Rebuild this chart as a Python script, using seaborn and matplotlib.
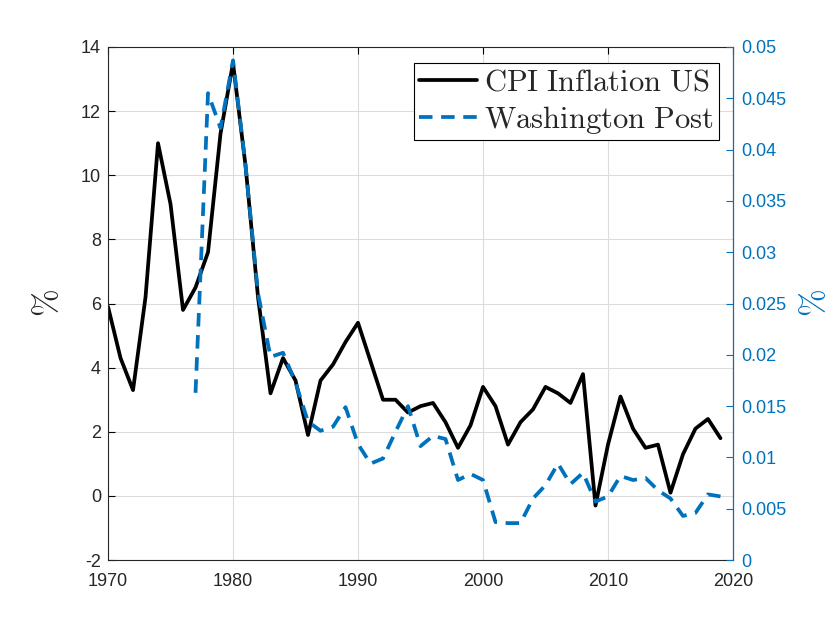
import matplotlib
matplotlib.use('Agg')
import matplotlib.pyplot as plt
import seaborn as sns
import pandas as pd
from matplotlib.ticker import FuncFormatter

sns.set_style("white")
plt.rcParams['font.family'] = ['Liberation Sans', 'DejaVu Sans']
plt.rcParams['mathtext.fontset'] = 'cm'
plt.rcParams['axes.unicode_minus'] = False

# annual CPI inflation, percent
cpi_years = list(range(1970, 2020))
cpi_values = [5.9, 4.3, 3.3, 6.2, 11.0, 9.1, 5.8, 6.5, 7.6, 11.3,
              13.5, 10.3, 6.2, 3.2, 4.3, 3.6, 1.9, 3.6, 4.1, 4.8,
              5.4, 4.2, 3.0, 3.0, 2.6, 2.8, 2.9, 2.3, 1.5, 2.2,
              3.4, 2.8, 1.6, 2.3, 2.7, 3.4, 3.2, 2.9, 3.8, -0.3,
              1.6, 3.1, 2.1, 1.5, 1.6, 0.1, 1.3, 2.1, 2.4, 1.8]

# Washington Post series, right axis
wp_years = list(range(1977, 2020))
wp_values = [0.0163, 0.0455, 0.0421, 0.0487, 0.0385, 0.0260, 0.0198, 0.0202, 0.0173, 0.0135,
             0.0126, 0.0130, 0.0149, 0.0113, 0.0094, 0.0099, 0.0125, 0.0150, 0.0111, 0.0121,
             0.0118, 0.0078, 0.0084, 0.0078, 0.0037, 0.0036, 0.0036, 0.0060, 0.0073, 0.0094,
             0.0074, 0.0085, 0.0057, 0.0062, 0.0082, 0.0078, 0.0080, 0.0068, 0.0060, 0.0043,
             0.0046, 0.0064, 0.0062]

blue = '#0072BD'

cpi_df = pd.DataFrame({'year': cpi_years, 'value': cpi_values})
wp_df = pd.DataFrame({'year': wp_years, 'value': wp_values})

fig = plt.figure(figsize=(8.4, 6.3), dpi=100)
ax = fig.add_axes([0.1286, 0.111, 0.744, 0.8144])
ax2 = ax.twinx()

sns.lineplot(data=cpi_df, x='year', y='value', ax=ax, color='black', linewidth=2.7)
sns.lineplot(data=wp_df, x='year', y='value', ax=ax2, color=blue, linewidth=2.7,
             linestyle=(0, (3.6, 2.3)))

ax.set_xlim(1970, 2020)
ax.set_ylim(-2, 14)
ax.set_xticks(range(1970, 2021, 10))
ax.set_yticks(range(-2, 15, 2))
ax2.set_ylim(0, 0.05)
ax2.set_yticks([i * 0.005 for i in range(11)])
ax2.yaxis.set_major_formatter(FuncFormatter(lambda v, p: '%g' % round(v, 4)))

ax.grid(True, color='#dcdcdc', linewidth=0.8)
ax.set_axisbelow(True)

for a in (ax, ax2):
    a.tick_params(direction='in', length=5, labelsize=13, width=0.8)
ax.tick_params(axis='x', top=True, pad=9)
ax.tick_params(axis='y', pad=5)
ax.tick_params(axis='both', colors='black', labelcolor='#262626')
ax2.tick_params(axis='y', colors=blue, labelcolor=blue, pad=6)
for s in ax.spines.values():
    s.set_color('#262626')
    s.set_linewidth(0.8)
ax2.spines['right'].set_color(blue)
ax2.spines['left'].set_visible(False)
ax2.spines['top'].set_visible(False)
ax2.spines['bottom'].set_visible(False)

ax.set_xlabel('')
ax.set_ylabel(r'$\%$', fontsize=24, labelpad=12)
ax2.set_ylabel(r'$\%$', fontsize=24, color=blue, labelpad=10)

l1 = ax.get_lines()[0]
l2 = ax2.get_lines()[0]
leg = ax2.legend([l1, l2], [r'$\mathrm{CPI\ Inflation\ US}$', r'$\mathrm{Washington\ Post}$'],
                 loc='upper right', bbox_to_anchor=(0.977, 0.969), fontsize=22,
                 fancybox=False, framealpha=1, edgecolor='black', handlelength=1.9,
                 handletextpad=0.25, borderpad=0.15, labelspacing=0.2, borderaxespad=0)
leg.get_frame().set_linewidth(0.8)

fig.savefig('out.png', dpi=100)
